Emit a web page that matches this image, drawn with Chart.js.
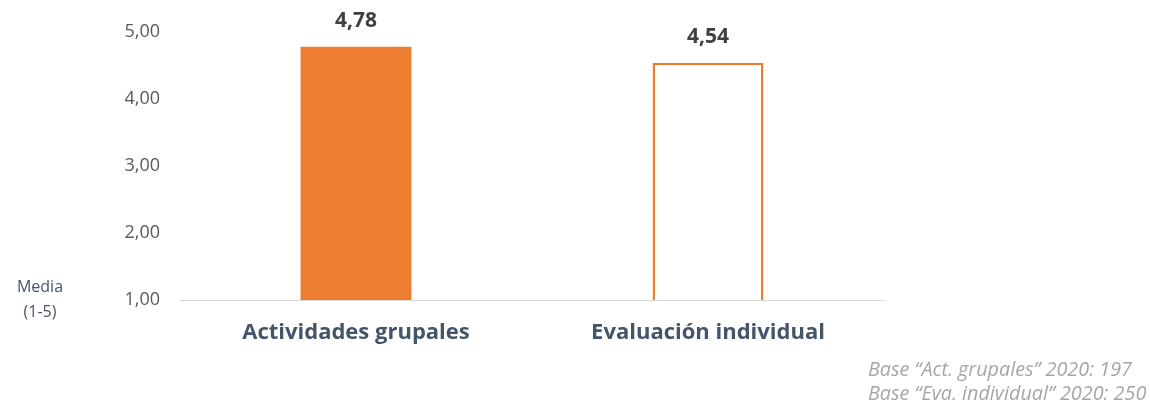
<!DOCTYPE html>
<html>
<head>
<meta charset="utf-8">
<script src="https://cdn.jsdelivr.net/npm/chart.js@4"></script>
<style>
  html, body { margin: 0; padding: 0; background: #fff; }
  #wrap { width: 1150px; height: 405px; position: relative; }
</style>
</head>
<body>
<div id="wrap"><canvas id="mediaChart"></canvas></div>
<script>
// Chart data
const categories = ['Actividades grupales', 'Evaluación individual'];
const mediaValues = [4.78, 4.54];
const yTicks = [1, 2, 3, 4, 5];
const axisTitle = ['Media', '(1-5)'];
const baseNotes = ['Base \u201cAct. grupales\u201d 2020: 197', 'Base \u201cEva. individual\u201d 2020: 250'];

const orange = '#ED7D31';
const fontFamily = "'Open Sans', sans-serif";
const fmt = v => v.toFixed(2).replace('.', ',');

// Value labels, axis title and notes
const extraText = {
    id: 'extraText',
    afterDatasetsDraw(chart) {
        const ctx = chart.ctx;
        const meta = chart.getDatasetMeta(0);
        ctx.save();
        ctx.font = `bold 21px ${fontFamily}`;
        ctx.fillStyle = '#404040';
        ctx.textAlign = 'center';
        ctx.textBaseline = 'middle';
        meta.data.forEach((bar, i) => {
            ctx.fillText(fmt(mediaValues[i]), bar.x, bar.y - 26);
        });

        ctx.font = `16px ${fontFamily}`;
        ctx.fillStyle = '#44546A';
        ctx.fillText(axisTitle[0], 40, 287);
        ctx.fillText(axisTitle[1], 40, 312);

        ctx.font = `italic 19.8px ${fontFamily}`;
        ctx.fillStyle = '#A6A6A6';
        ctx.textAlign = 'left';
        ctx.fillText(baseNotes[0], 868, 370);
        ctx.fillText(baseNotes[1], 868, 394);
        ctx.restore();
    }
};

const ctx = document.getElementById('mediaChart').getContext('2d');
new Chart(ctx, {
    type: 'bar',
    data: {
        labels: categories,
        datasets: [{
            data: mediaValues.map(v => [yTicks[0], v]),
            backgroundColor: ['#ED7D31', '#FFFFFF'],
            borderColor: [orange, orange],
            borderWidth: [0, 2.5],
            borderSkipped: 'start',
            barPercentage: 0.63,
            categoryPercentage: 0.5
        }]
    },
    options: {
        responsive: true,
        maintainAspectRatio: false,
        animation: false,
        layout: { padding: { top: 32, right: 266, bottom: 0, left: 0 } },
        plugins: {
            legend: { display: false },
            tooltip: { enabled: false }
        },
        scales: {
            x: {
                grid: { display: false, drawTicks: false },
                border: { display: true, color: '#D9D9D9', width: 1 },
                ticks: {
                    color: '#44546A',
                    font: { family: fontFamily, size: 22, weight: 'bold' },
                    padding: 20
                },
                afterFit: s => { s.height = 105; }
            },
            y: {
                min: yTicks[0],
                max: yTicks[yTicks.length - 1],
                grid: { display: false, drawTicks: false },
                border: { display: false },
                afterBuildTicks: s => { s.ticks = yTicks.map(v => ({ value: v })); },
                ticks: {
                    color: '#595959',
                    font: { family: fontFamily, size: 18 },
                    padding: 20,
                    callback: v => fmt(v)
                },
                afterFit: s => { s.width = 180; }
            }
        }
    },
    plugins: [extraText]
});
</script>
</body>
</html>
